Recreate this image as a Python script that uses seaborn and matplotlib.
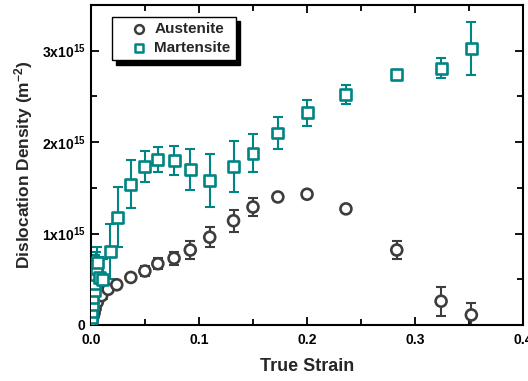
import numpy as np
import pandas as pd
import seaborn as sns
import matplotlib
matplotlib.use("Agg")
import matplotlib.pyplot as plt
from matplotlib.ticker import MultipleLocator, FixedLocator, FixedFormatter

# Austenite dislocation density (units of 1e15 m^-2) vs true strain
aus_strain = [0.001, 0.002, 0.003, 0.004, 0.006, 0.010, 0.016, 0.024, 0.037,
              0.050, 0.062, 0.077, 0.092, 0.110, 0.132, 0.150, 0.173, 0.200,
              0.236, 0.283, 0.324, 0.352]
aus_rho = [0.04, 0.09, 0.13, 0.18, 0.25, 0.32, 0.39, 0.44, 0.52,
           0.59, 0.67, 0.73, 0.82, 0.96, 1.14, 1.29, 1.40, 1.43,
           1.27, 0.82, 0.26, 0.11]
aus_err = [0.02, 0.02, 0.02, 0.02, 0.02, 0.02, 0.02, 0.03, 0.04,
           0.05, 0.06, 0.07, 0.10, 0.11, 0.12, 0.10, 0.02, 0.02,
           0.03, 0.10, 0.16, 0.13]

# Martensite dislocation density (units of 1e15 m^-2) vs true strain
mar_strain = [0.001, 0.001, 0.002, 0.002, 0.003, 0.003, 0.004, 0.005, 0.006,
              0.008, 0.011, 0.018, 0.025, 0.037, 0.050, 0.062, 0.077, 0.092,
              0.110, 0.132, 0.150, 0.173, 0.200, 0.236, 0.283, 0.324, 0.352]
mar_rho = [0.08, 0.15, 0.22, 0.30, 0.38, 0.45, 0.55, 0.62, 0.68,
           0.52, 0.50, 0.80, 1.18, 1.54, 1.73, 1.81, 1.80, 1.70,
           1.58, 1.73, 1.88, 2.10, 2.32, 2.52, 2.74, 2.81, 3.02]
mar_err = [0.10, 0.12, 0.15, 0.18, 0.20, 0.20, 0.22, 0.18, 0.17,
           0.22, 0.22, 0.30, 0.33, 0.26, 0.17, 0.14, 0.16, 0.22,
           0.29, 0.28, 0.21, 0.17, 0.14, 0.10, 0.05, 0.11, 0.29]

ytick_vals = [0, 1, 2, 3]
ytick_text = ["0", r"1x10$^{15}$", r"2x10$^{15}$", r"3x10$^{15}$"]
xtick_vals = [0.0, 0.1, 0.2, 0.3, 0.4]
xtick_text = ["0.0", "0.1", "0.2", "0.3", "0.4"]

sns.set_theme(style="ticks")
plt.rcParams["font.family"] = ["Liberation Sans", "DejaVu Sans"]
plt.rcParams["font.weight"] = "bold"
plt.rcParams["mathtext.fontset"] = "custom"
plt.rcParams["mathtext.rm"] = "Liberation Sans:bold"
plt.rcParams["mathtext.bf"] = "Liberation Sans:bold"
plt.rcParams["mathtext.default"] = "bf"

aus_col = "#3d3d3d"
mar_col = "#008585"

df = pd.concat([
    pd.DataFrame({"strain": aus_strain, "rho": aus_rho, "phase": "Austenite"}),
    pd.DataFrame({"strain": mar_strain, "rho": mar_rho, "phase": "Martensite"}),
], ignore_index=True)

fig = plt.figure(figsize=(5.28, 3.81), dpi=100)
ax = fig.add_axes([0.172, 0.147, 0.819, 0.840])

ax.errorbar(aus_strain, aus_rho, yerr=aus_err, fmt="none", ecolor=aus_col,
            elinewidth=1.5, capsize=3.5, capthick=1.5, zorder=2)
ax.errorbar(mar_strain, mar_rho, yerr=mar_err, fmt="none", ecolor=mar_col,
            elinewidth=1.5, capsize=3.5, capthick=1.5, zorder=2)

sns.scatterplot(data=df, x="strain", y="rho", hue="phase", style="phase",
                markers={"Austenite": "o", "Martensite": "s"},
                palette={"Austenite": aus_col, "Martensite": mar_col},
                ax=ax, s=62, zorder=3, legend=False,
                facecolor="white", linewidth=1.9)
# hollow markers: colored edges, white fill
for coll in ax.collections:
    fc = coll.get_facecolors()
    if len(fc):
        coll.set_edgecolors(fc)
        coll.set_facecolors("white")

ax.set_xlim(0, 0.4)
ax.set_ylim(0, 3.5)
ax.xaxis.set_major_locator(FixedLocator(xtick_vals))
ax.xaxis.set_major_formatter(FixedFormatter(xtick_text))
ax.xaxis.set_minor_locator(MultipleLocator(0.05))
ax.yaxis.set_major_locator(FixedLocator(ytick_vals))
ax.yaxis.set_major_formatter(FixedFormatter(ytick_text))
ax.yaxis.set_minor_locator(MultipleLocator(0.5))
ax.tick_params(which="both", direction="in", top=True, right=True,
               width=1.3, colors="black", labelsize=10)
ax.tick_params(axis="x", pad=6)
ax.tick_params(axis="y", pad=4)
ax.tick_params(which="major", length=6)
ax.tick_params(which="minor", length=4)
for lbl in ax.get_xticklabels() + ax.get_yticklabels():
    lbl.set_fontweight("bold")
for sp in ax.spines.values():
    sp.set_linewidth(1.5)
    sp.set_color("black")

ax.set_xlabel("True Strain", fontsize=13, fontweight="bold", labelpad=8)
ax.set_ylabel(r"Dislocation Density (m$^{-2}$)", fontsize=12.5,
              fontweight="bold", labelpad=5)

h_a = ax.scatter([], [], marker="o", s=40, facecolor="white",
                 edgecolor=aus_col, linewidth=1.8)
h_m = ax.scatter([], [], marker="s", s=36, facecolor="white",
                 edgecolor=mar_col, linewidth=1.8)
leg = ax.legend([h_a, h_m], ["Austenite", "Martensite"], loc="upper left",
                bbox_to_anchor=(0.048, 0.962), borderaxespad=0,
                fancybox=False,
                shadow={"ox": 3, "oy": -3, "color": "black", "alpha": 1},
                framealpha=1, edgecolor="black", borderpad=0.35,
                handletextpad=-0.45, labelspacing=0.3, handlelength=2.9,
                prop={"size": 11, "weight": "bold"})
leg.get_frame().set_linewidth(1.0)

fig.savefig("out.png", dpi=100)
